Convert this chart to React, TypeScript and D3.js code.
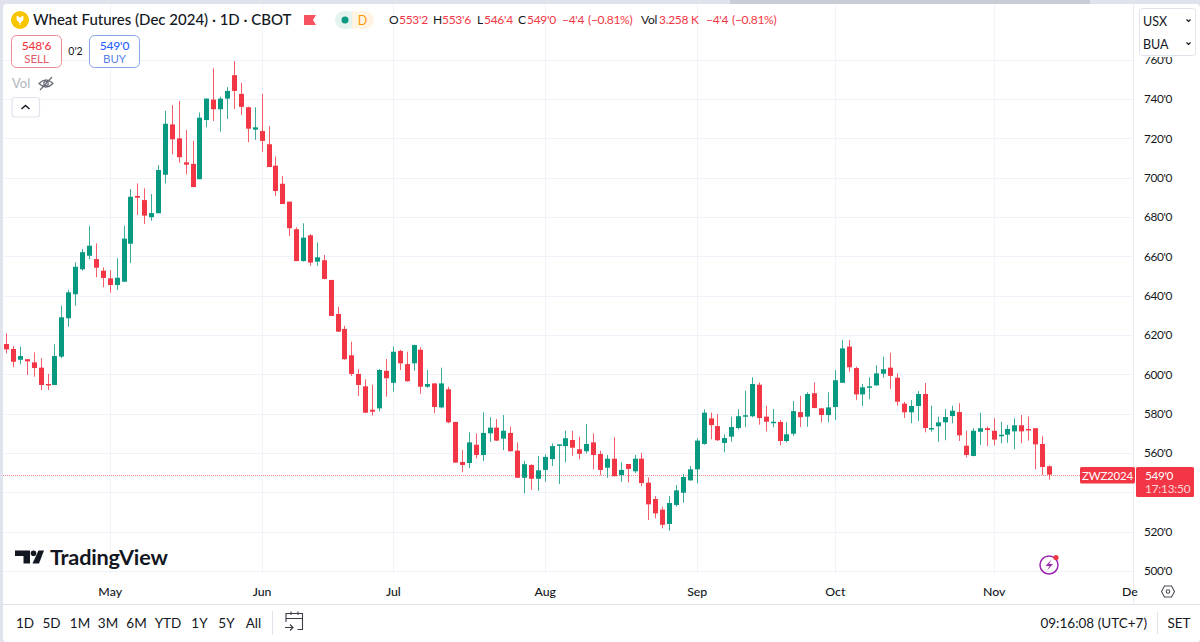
import React from "react";
import * as d3 from "d3";

// Wheat Futures (Dec 2024), daily candles, prices
const opens = [
  615.4, 612.9, 607.4, 607.7, 606.1, 603.4, 595.1, 594.6, 609.0, 628.5,
  640.7, 653.4, 660.3, 658.6, 652.7, 648.8, 645.4, 647.1, 666.4, 690.7,
  688.6, 679.9, 681.9, 701.5, 727.1, 720.0, 707.8, 707.0, 699.2, 729.3,
  739.7, 734.8, 740.2, 752.1, 742.6, 735.8, 724.4, 723.7, 717.0, 706.1,
  696.9, 687.8, 673.8, 657.6, 670.7, 657.3, 658.0, 648.0, 630.7, 623.1,
  609.7, 600.2, 593.9, 582.0, 582.7, 601.8, 595.7, 611.9, 605.2, 605.6,
  612.5, 593.7, 595.4, 583.2, 592.4, 575.8, 555.4, 554.9, 564.2, 559.0,
  570.0, 572.9, 567.3, 570.2, 561.2, 547.4, 553.9, 546.9, 551.4, 556.9,
  563.7, 563.5, 566.6, 561.9, 560.9, 565.4, 559.5, 552.5, 557.1, 548.7,
  554.4, 550.7, 557.1, 544.9, 536.6, 531.2, 523.9, 533.6, 539.8, 546.1,
  551.7, 564.6, 577.6, 573.7, 565.1, 568.3, 572.7, 578.5, 578.7, 594.7,
  578.5, 575.4, 575.8, 566.1, 569.8, 580.8, 578.5, 590.4, 582.7, 579.3,
  583.4, 595.7, 614.1, 603.2, 589.8, 593.4, 594.4, 600.3, 603.4, 598.3,
  585.1, 580.7, 583.9, 590.0, 572.4, 573.6, 575.6, 578.8, 580.8, 563.7,
  558.5, 570.8, 572.6, 571.3, 568.5, 569.3, 571.0, 574.1, 572.2, 572.6,
  564.6, 553.25,
];
const highs = [
  620.9, 614.4, 614.1, 607.7, 611.2, 608.2, 600.2, 615.3, 634.9, 642.9,
  657.0, 663.7, 675.4, 666.6, 654.4, 653.0, 659.0, 675.6, 694.2, 697.1,
  694.6, 691.7, 706.4, 734.0, 736.9, 739.0, 724.2, 718.8, 733.2, 740.4,
  755.6, 741.2, 746.0, 759.3, 748.3, 736.1, 735.8, 742.6, 726.3, 710.7,
  700.9, 687.8, 674.8, 676.8, 671.2, 667.1, 660.7, 648.0, 634.4, 624.7,
  616.6, 602.7, 597.5, 594.7, 602.7, 607.8, 614.1, 612.4, 611.5, 615.1,
  613.8, 602.2, 595.4, 603.4, 593.7, 575.8, 561.5, 570.5, 570.0, 580.7,
  578.2, 577.3, 579.3, 573.4, 565.4, 556.1, 554.3, 558.5, 559.3, 564.9,
  564.4, 571.3, 571.3, 568.3, 574.8, 570.0, 561.2, 559.0, 568.0, 555.3,
  554.4, 559.0, 560.1, 547.6, 538.1, 532.7, 538.1, 543.7, 549.3, 553.4,
  567.5, 582.2, 580.5, 579.8, 569.5, 578.5, 582.2, 591.7, 598.5, 595.9,
  584.0, 582.4, 576.8, 575.6, 586.4, 589.1, 590.9, 595.9, 583.0, 590.9,
  602.2, 617.5, 617.5, 603.9, 595.1, 598.5, 604.6, 609.0, 611.0, 600.5,
  586.1, 586.9, 591.5, 595.6, 584.0, 578.5, 582.4, 584.0, 585.3, 571.3,
  572.6, 580.5, 573.4, 577.6, 575.8, 574.2, 577.6, 579.3, 578.5, 572.6,
  568.5, 553.75,
];
const lows = [
  610.7, 603.6, 605.1, 599.7, 598.8, 592.0, 592.0, 594.6, 608.3, 624.2,
  634.9, 652.7, 658.5, 649.3, 644.3, 641.5, 642.9, 647.1, 656.5, 681.0,
  676.4, 678.1, 681.9, 697.1, 711.9, 707.6, 701.7, 695.2, 699.2, 725.6,
  728.8, 723.4, 729.8, 734.9, 731.9, 718.0, 719.2, 713.2, 705.4, 690.7,
  686.6, 670.3, 657.6, 657.3, 655.2, 655.2, 648.3, 629.7, 621.7, 607.4,
  599.2, 589.0, 580.5, 579.0, 581.2, 588.6, 591.2, 602.2, 596.3, 601.8,
  590.0, 593.2, 580.2, 582.7, 575.1, 555.1, 550.2, 552.4, 557.3, 555.9,
  565.7, 566.1, 561.5, 560.7, 547.3, 539.5, 541.2, 540.8, 545.4, 553.4,
  544.2, 555.3, 558.6, 556.8, 559.8, 551.7, 548.7, 547.4, 548.0, 545.4,
  545.1, 549.8, 543.2, 525.9, 526.8, 521.7, 520.5, 532.7, 534.7, 545.9,
  544.6, 564.2, 567.0, 566.1, 560.4, 565.7, 572.0, 573.1, 578.2, 574.4,
  571.0, 573.1, 563.9, 565.4, 568.8, 573.2, 573.4, 582.7, 575.6, 575.6,
  576.8, 595.7, 601.3, 586.9, 583.9, 587.3, 594.2, 598.3, 592.4, 584.0,
  577.8, 575.1, 576.3, 570.5, 570.8, 565.7, 566.5, 575.1, 566.1, 557.8,
  558.3, 564.1, 563.5, 563.9, 564.9, 565.2, 562.0, 565.0, 566.3, 551.7,
  548.8, 546.5,
];
const closes = [
  612.7, 606.4, 609.3, 606.6, 603.2, 594.6, 594.6, 609.3, 629.0, 641.7,
  654.7, 662.1, 665.4, 654.2, 649.0, 645.4, 649.1, 669.0, 690.3, 689.8,
  680.7, 682.0, 703.9, 727.4, 719.5, 710.4, 706.6, 695.2, 730.5, 740.2,
  734.8, 740.2, 744.1, 744.1, 736.0, 724.9, 725.6, 718.7, 705.4, 693.2,
  686.6, 674.3, 657.6, 669.5, 656.8, 659.5, 648.5, 629.7, 621.7, 607.7,
  600.2, 594.6, 580.5, 581.0, 602.2, 598.0, 611.5, 605.6, 596.5, 614.9,
  593.7, 595.1, 583.4, 595.4, 575.6, 555.1, 553.9, 565.4, 559.0, 570.2,
  572.9, 566.3, 571.3, 560.9, 547.4, 554.3, 546.9, 551.2, 558.0, 563.5,
  564.4, 567.5, 562.7, 559.6, 564.6, 559.0, 551.4, 557.1, 548.2, 551.4,
  551.9, 557.1, 544.7, 533.9, 529.3, 523.5, 534.6, 541.0, 547.8, 551.7,
  566.3, 580.5, 574.2, 566.5, 567.6, 573.2, 578.7, 579.2, 595.1, 577.8,
  575.9, 575.9, 566.1, 569.5, 581.3, 578.2, 590.0, 582.9, 579.3, 583.2,
  597.0, 613.2, 603.6, 589.8, 593.4, 593.9, 600.5, 602.6, 599.2, 586.1,
  580.7, 583.9, 590.0, 572.7, 572.7, 575.6, 578.3, 581.5, 569.0, 559.0,
  571.3, 572.6, 571.7, 566.8, 569.3, 572.2, 574.1, 571.0, 571.7, 564.4,
  552.9, 549.0,
];
const priceTicks = [500, 520, 560, 580, 600, 620, 640, 660, 680, 700, 720, 740, 760];
const gridPrices = [500, 520, 540, 560, 580, 600, 620, 640, 660, 680, 700, 720, 740, 760];
const monthLabels = ["May", "Jun", "Jul", "Aug", "Sep", "Oct", "Nov"];
const monthCandles = [15, 37, 56, 78, 100, 120, 143];
const rangeLabels = ["1D", "5D", "1M", "3M", "6M", "YTD", "1Y", "5Y", "All"];
const rangeCentres = [25, 51.5, 80, 108, 136.5, 168, 199.5, 226.5, 253.5];

const FONT = "Lato, 'Noto Sans', sans-serif";
const RED = "#f23645";
const GREEN = "#089981";
const INK = "#131722";
const PALE = "#f0f3fa";

const x = d3.scaleLinear().domain([0, opens.length - 1]).range([6.6, 1049.4]);
const y = d3.scaleLinear().domain([500, 740]).range([571, 99]);
const snap = (v: number) => Math.round(v);
const fmt = (p: number) => `${p}'0`;
const lastClose = closes[closes.length - 1];

const ohlc: [string, string, number][] = [
  ["O", INK, 389], ["553'2", RED, 399], ["H", INK, 433], ["553'6", RED, 442],
  ["L", INK, 477], ["546'4", RED, 484], ["C", INK, 518], ["549'0", RED, 527],
  ["−4'4", RED, 562], ["(−0.81%)", RED, 588], ["Vol", INK, 641], ["3.258 K", RED, 659],
  ["−4'4", RED, 706], ["(−0.81%)", RED, 732],
];

export default function App() {
  const candles = opens.map((o, i) => ({ o, h: highs[i], l: lows[i], c: closes[i], i }));
  return (
    <svg
      width={1200}
      height={642}
      viewBox="0 0 1200 642"
      style={{ position: "fixed", left: 0, top: 0, display: "block", fontFamily: FONT }}
    >
      <rect width={1200} height={642} fill="#e0e3eb" />
      <rect x={3} y={4} width={1197} height={638} rx={4} fill="#ffffff" />
      <rect x={730} y={0} width={360} height={4} fill="#c9ccd4" />

      {/* grid */}
      {gridPrices.map((p) => (
        <line key={p} x1={3} x2={1133} y1={snap(y(p)) + 0.5} y2={snap(y(p)) + 0.5} stroke={PALE} />
      ))}
      {monthCandles.map((m) => (
        <line key={m} x1={Math.floor(x(m)) + 0.5} x2={Math.floor(x(m)) + 0.5} y1={4} y2={574} stroke={PALE} />
      ))}

      {/* last price line */}
      <line x1={3} x2={1080} y1={snap(y(lastClose)) + 0.5} y2={snap(y(lastClose)) + 0.5} stroke={RED} strokeWidth={1} strokeDasharray="1 1" opacity={0.6} />

      {/* candles */}
      {candles.map((d) => {
        const cx = Math.floor(x(d.i));
        const top = y(Math.max(d.o, d.c));
        const bot = y(Math.min(d.o, d.c));
        const col = d.c < d.o ? RED : GREEN;
        return (
          <g key={d.i} fill={col}>
            <rect x={cx} y={y(d.h)} width={1} height={y(d.l) - y(d.h)} opacity={0.8} />
            <rect x={cx - 2} y={top} width={5} height={Math.max(bot - top, 1.5)} />
          </g>
        );
      })}

      {/* price axis */}
      <line x1={1133.5} x2={1133.5} y1={4} y2={604} stroke="#e9ecf2" />
      {priceTicks.map((p) => (
        <text key={p} x={1144} y={y(p) + 4.2} fontSize={11.8} letterSpacing={-0.35} fill={INK}>{fmt(p)}</text>
      ))}
      <rect x={1080} y={467} width={55} height={16.5} rx={1.5} fill={RED} />
      <text x={1107.5} y={479.5} textAnchor="middle" fontSize={11.5} letterSpacing={-0.2} fill="#fff">ZWZ2024</text>
      <rect x={1136} y={467} width={58} height={30} rx={1.5} fill={RED} />
      <text x={1145} y={479.5} fontSize={11.8} letterSpacing={-0.35} fill="#fff">{fmt(lastClose)}</text>
      <text x={1145} y={493} fontSize={11.8} letterSpacing={-0.2} fill="#fcd5d8">17:13:50</text>

      {/* currency and unit box */}
      <rect x={1138} y={7} width={59} height={50} fill="#fff" />
      <rect x={1139.5} y={8.5} width={56} height={47} rx={3} fill="#fff" stroke="#e0e3eb" />
      <text x={1143} y={25.5} fontSize={12.5} fill={INK}>USX</text>
      <text x={1143} y={48.5} fontSize={12.5} fill={INK}>BUA</text>
      <path d="M1186.5 19.5l2 2 2-2M1186.5 42.5l2 2 2-2" fill="none" stroke={INK} strokeWidth={1.2} />

      {/* header */}
      <circle cx={20} cy={20} r={9} fill="#f7c600" />
      <path d="M20 25v-7M20 23l-3-3v-4l3 2 3-2v4z" fill="#fff" stroke="#fff" strokeWidth={0.8} />
      <text x={33} y={25.3} fontSize={15} fontWeight={500} fill={INK}>Wheat Futures (Dec 2024) · 1D · CBOT</text>
      <path d="M304 15h12l-3 5 3 5h-12z" fill="#f7525f" />
      <rect x={335} y={11} width={22} height={18} rx={9} fill="#e3f3f0" />
      <rect x={352} y={11} width={22} height={18} rx={9} fill="#fff3e3" />
      <rect x={352} y={11} width={5} height={18} fill="#fff3e3" />
      <circle cx={345} cy={20} r={3.5} fill={GREEN} />
      <text x={362.5} y={25} textAnchor="middle" fontSize={12.5} fill="#ff9800">D</text>
      {ohlc.map(([t, c, px], i) => (
        <text key={i} x={px} y={24.3} fontSize={12} letterSpacing={-0.3} fill={c}>{t}</text>
      ))}

      {/* trade buttons */}
      <rect x={11.5} y={35.5} width={50} height={32} rx={5} fill="#fff" stroke="#ec8b93" />
      <text x={36.5} y={50} textAnchor="middle" fontSize={12} fontWeight={500} letterSpacing={-0.2} fill={RED}>548'6</text>
      <text x={36.5} y={63} textAnchor="middle" fontSize={11.5} fill="#e35a66">SELL</text>
      <text x={75.5} y={55} textAnchor="middle" fontSize={10.5} fill={INK}>0'2</text>
      <rect x={89.5} y={35.5} width={50} height={32} rx={5} fill="#fff" stroke="#8ca7e8" />
      <text x={114.5} y={50} textAnchor="middle" fontSize={12} fontWeight={500} letterSpacing={-0.2} fill="#2962ff">549'0</text>
      <text x={114.5} y={63} textAnchor="middle" fontSize={11.5} fill="#5b83e6">BUY</text>

      {/* volume row */}
      <text x={12} y={88} fontSize={13} fill="#b2b5be">Vol</text>
      <g fill="none" stroke="#6a6d78" strokeWidth={1.2}>
        <path d="M39 83.5q7-7 14 0q-7 7-14 0z" />
        <circle cx={46} cy={83.5} r={2.2} />
        <path d="M40 90l12-13" />
      </g>
      <rect x={12} y={97.5} width={27.5} height={19.5} rx={3} fill="#fff" stroke="#e0e3eb" strokeWidth={1.2} />
      <path d="M21.5 109l4-3.5 4 3.5" fill="none" stroke={INK} strokeWidth={1.4} />

      {/* logo */}
      <g fill={INK}>
        <path d="M15 550.5h15v13h-6.5v-7.5H15z" />
        <circle cx={33.5} cy={553.2} r={2.8} />
        <path d="M38.5 550.5h5.5l-5 13h-6.5z" />
      </g>
      <text x={50} y={564.5} fontSize={21.7} fontWeight={700} fill={INK} style={{ letterSpacing: "-0.2px" }}>TradingView</text>

      {/* bolt badge */}
      <circle cx={1049} cy={565} r={9} fill="none" stroke="#9c27b0" strokeWidth={1.5} />
      <path d="M1051.5 559.5l-6 6.5h4l-2.5 4.5 6-6.5h-4z" fill="#9c27b0" />
      <circle cx={1056} cy={557.5} r={2.6} fill={RED} />

      {/* time axis */}
      <line x1={3} x2={1200} y1={604.5} y2={604.5} stroke="#e0e3eb" />
      {monthLabels.map((m, i) => (
        <text key={m} x={x(monthCandles[i])} y={595.5} textAnchor="middle" fontSize={12.3} fontWeight={500} fill={INK}>{m}</text>
      ))}
      <text x={1122} y={595.5} fontSize={12.3} fontWeight={500} fill={INK}>De</text>
      <path d="M1161.5 591.5l3-5.5h7l3 5.5-3 5.5h-7z" fill="none" stroke="#4a4d58" strokeWidth={1.1} />
      <circle cx={1168} cy={591.5} r={1.8} fill="none" stroke="#4a4d58" strokeWidth={1.1} />

      {/* bottom toolbar */}
      {rangeLabels.map((r, i) => (
        <text key={r} x={rangeCentres[i]} y={628} textAnchor="middle" fontSize={13.5} fill={INK}>{r}</text>
      ))}
      <line x1={272.5} x2={272.5} y1={611} y2={635} stroke="#e0e3eb" />
      <g fill="none" stroke="#3a3d48" strokeWidth={1.1}>
        <path d="M286 622v-8.5h16.5v16h-5M286 618.5h16.5M291 611.5v3.5M298 611.5v3.5" />
        <path d="M285 627.5h8M290 624.5l3 3-3 3" />
      </g>
      <text x={1147} y={628} textAnchor="end" fontSize={13.5} fill={INK}>09:16:08 (UTC+7)</text>
      <line x1={1157.5} x2={1157.5} y1={612} y2={634} stroke="#e0e3eb" />
      <text x={1179} y={628} textAnchor="middle" fontSize={13.5} fill={INK}>SET</text>
    </svg>
  );
}
